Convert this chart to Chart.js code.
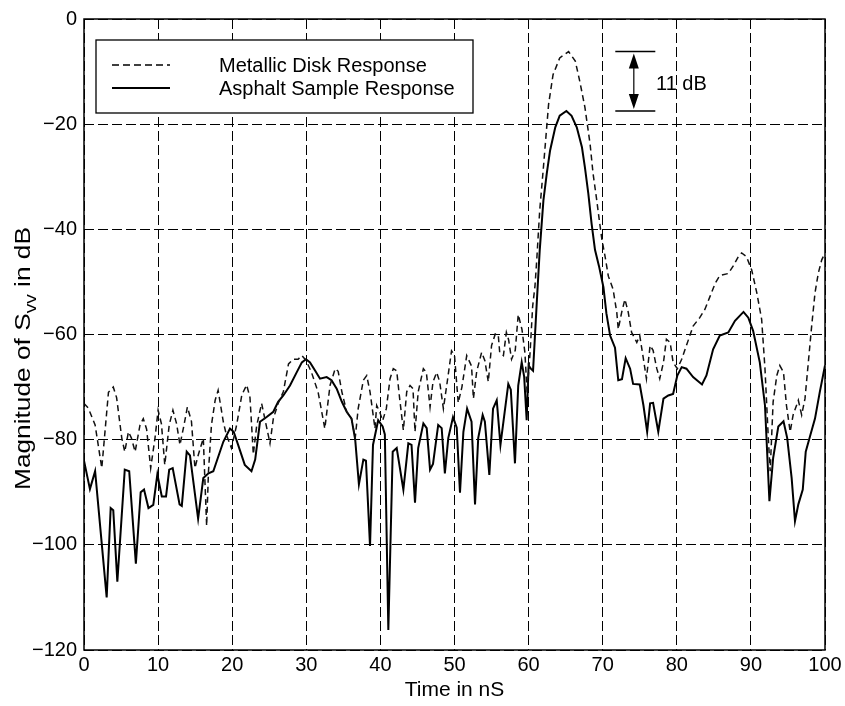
<!DOCTYPE html>
<html>
<head>
<meta charset="utf-8">
<script src="https://cdn.jsdelivr.net/npm/chart.js@4.4.0/dist/chart.umd.min.js"></script>
<style>
html,body{margin:0;padding:0;background:#fff;}
#wrap{width:845px;height:706px;}
</style>
</head>
<body>
<div id="wrap"><canvas id="c" width="845" height="706"></canvas></div>
<script>
// ---------------- data ----------------
const seriesNames = ['Metallic Disk Response', 'Asphalt Sample Response'];
const xTickValues = [0, 10, 20, 30, 40, 50, 60, 70, 80, 90, 100];
const yTickValues = [-120, -100, -80, -60, -40, -20, 0];
const xTitle = 'Time in nS';
const yTitleParts = ['Magnitude of S', 'vv', ' in dB'];
const annotationText = '11 dB';

const metallicT = [
  0, 0.58, 1.5, 2.4, 3.3, 3.95, 4.4, 5.1, 5.5, 6.0,
  6.4, 6.9, 7.56, 8.0, 8.45, 9.0, 9.58, 10.0, 10.45, 10.9,
  11.5, 12.0, 12.5, 12.95, 13.5, 13.95, 14.5, 14.97, 15.4, 16.1,
  16.55, 16.8, 17.2, 17.7, 18.1, 18.8, 19.2, 19.9, 20.6, 21.3,
  21.95, 22.4, 22.85, 23.3, 23.97, 24.4, 25.1, 25.55, 26.2, 26.9,
  27.6, 28.25, 28.9, 29.4, 30.0, 30.7, 31.6, 32.5, 33.2, 33.9,
  34.3, 34.8, 35.45, 36.1, 36.6, 37.0, 37.7, 38.15, 38.6, 39.27,
  39.5, 39.9, 40.3, 40.8, 41.3, 41.74, 42.2, 42.6, 43.1, 43.55,
  44.0, 44.4, 44.67, 45.1, 45.8, 46.2, 46.7, 47.1, 47.6, 48.0,
  48.5, 48.95, 49.6, 50.0, 50.5, 51.0, 51.65, 52.3, 52.55, 53.0,
  53.66, 54.1, 54.56, 55.0, 55.5, 55.9, 56.1, 56.6, 57.0, 57.3,
  57.7, 58.2, 58.6, 59.1, 59.5, 59.8, 60.2, 60.55, 60.86, 61.1,
  61.5, 62.0, 62.7, 63.3, 64.2, 65.4, 66.3, 66.9, 67.6, 68.3,
  68.7, 69.2, 69.6, 69.9, 70.3, 70.76, 71.4, 71.9, 72.1, 72.56,
  73.0, 73.45, 73.9, 74.6, 75.0, 75.5, 75.9, 76.4, 76.8, 77.3,
  77.7, 78.2, 78.6, 79.1, 79.5, 80.07, 80.66, 81.3, 82.2, 83.1,
  83.8, 84.5, 85.2, 85.8, 86.95, 87.6, 88.3, 88.75, 89.4, 90.1,
  90.8, 91.45, 91.9, 92.35, 92.6, 93.0, 93.5, 93.9, 94.4, 94.8,
  95.3, 95.7, 96.4, 96.85, 97.3, 97.75, 98.2, 98.65, 99.1, 99.56,
  100
];
const metallicDb = [
  -73.1, -74, -77.2, -85.4, -71, -70, -72, -79.7, -82.3, -78.5,
  -79.7, -82.3, -77.2, -76, -78, -85.4, -79.7, -74.4, -77, -84.8,
  -77.2, -74.4, -77, -81, -77.2, -73.8, -76.5, -85.4, -83, -79.7,
  -96.4, -86, -77.2, -72.5, -70.6, -76.6, -79, -81.6, -77.2, -71.5,
  -69.6, -72, -82.8, -77.4, -73.1, -76, -80.7, -76, -73.1, -70.9,
  -65.6, -64.7, -64.7, -64, -65, -67.2, -71, -77.9, -69.7, -66.5,
  -67, -70.9, -74.7, -76, -79.7, -74.1, -68.7, -67.8, -70.9, -77.9,
  -73.5, -74.7, -76.4, -74.1, -68.4, -66.5, -66.9, -72.2, -78.2, -70.9,
  -69.7, -70.3, -78.5, -70.9, -66.5, -67.2, -73.8, -69, -67.2, -69,
  -74.1, -69.7, -63.1, -64, -73, -70, -64, -66, -72.2, -67,
  -63.4, -65, -69, -62.1, -59.9, -60, -63.4, -64, -59.6, -61,
  -64.7, -63, -56.2, -59, -63.4, -71, -63.4, -54.6, -50.8, -45.8,
  -36.4, -28.2, -16.2, -10.6, -7.4, -6.2, -8, -11.8, -16.8, -23.8,
  -29.4, -34.5, -38.9, -42, -45, -48.9, -51.4, -55.8, -59, -55.8,
  -53.3, -55.8, -59.6, -61.5, -60.2, -64.7, -68.4, -62.1, -63, -66.5,
  -68.4, -65.3, -60.9, -61.5, -65.3, -66.5, -64.7, -62.1, -58.4, -56.8,
  -55.2, -52.7, -50.2, -48.8, -48.4, -47, -45.2, -44.5, -45.2, -47.7,
  -52.1, -57.1, -66.5, -79.7, -86, -72.8, -67.8, -65.9, -67.2, -73.5,
  -78.5, -75.3, -72.5, -75.3, -72.2, -65.3, -58.4, -52.1, -48.3, -45.8,
  -44.5
];

const asphaltT = [
  0, 0.8, 1.5, 3.06, 3.6, 3.95, 4.5, 5.5, 6.1, 7.0,
  7.65, 8.1, 8.7, 9.35, 9.9, 10.5, 11.07, 11.5, 11.97, 12.9,
  13.2, 13.86, 14.3, 15.4, 16.1, 16.8, 17.45, 18.8, 19.7, 20.2,
  20.8, 21.7, 22.6, 23.1, 23.75, 24.65, 25.55, 26.2, 26.9, 27.8,
  28.7, 29.4, 29.96, 30.5, 31.2, 31.85, 32.75, 33.4, 34.1, 34.8,
  35.45, 36.1, 36.6, 37.1, 37.7, 38.05, 38.6, 39.0, 39.7, 40.3,
  40.6, 41.07, 41.66, 42.2, 43.1, 43.77, 44.2, 44.67, 45.1, 45.8,
  46.25, 46.7, 47.1, 47.8, 48.27, 48.7, 49.16, 49.8, 50.3, 50.74,
  51.2, 51.7, 52.3, 52.77, 53.2, 53.8, 54.1, 54.7, 55.2, 55.7,
  56.2, 56.6, 57.26, 57.6, 58.16, 58.6, 59.07, 59.4, 59.74, 60.0,
  60.3, 60.6, 60.86, 61.1, 61.5, 62.0, 62.45, 62.9, 63.6, 64.2,
  65.1, 65.8, 66.5, 67.2, 67.6, 68.06, 68.5, 68.96, 69.5, 70.1,
  70.5, 71.0, 71.66, 72.1, 72.6, 73.1, 73.7, 74.1, 75.0, 75.5,
  76.0, 76.4, 76.8, 77.5, 78.2, 78.85, 79.5, 80.07, 80.66, 81.3,
  82.2, 83.4, 84.0, 84.9, 85.8, 86.95, 87.85, 89.0, 89.65, 90.3,
  91.2, 91.9, 92.5, 93.0, 93.7, 94.4, 94.9, 95.5, 95.95, 96.4,
  97.0, 97.4, 97.97, 98.65, 99.3, 100
];
const asphaltDb = [
  -84, -89.4, -86, -110, -93, -93.4, -107, -85.7, -86, -103.6,
  -90, -89.5, -93, -92.4, -86.6, -90.8, -90.8, -85.7, -85.4, -92.3,
  -92.6, -82.3, -83, -95, -87.3, -86.4, -86, -80.4, -77.9, -78.5,
  -81, -84.8, -86, -83.8, -76.6, -75.7, -74.7, -72.8, -71.6, -69.7,
  -67.2, -65.3, -64.7, -65.3, -66.9, -68.4, -68.1, -68.7, -70.3, -72.8,
  -74.7, -76, -80, -88.5, -83.8, -84, -100.2, -81, -76.3, -77.5,
  -79, -116.2, -82.3, -81.6, -89.5, -80.7, -81, -92, -81.6, -76.9,
  -77.8, -85.7, -84.6, -77.2, -77.8, -86.4, -79.7, -75.7, -77.7, -90.1,
  -78.5, -74.1, -76.6, -92.3, -79.7, -75.3, -76.6, -86.7, -74.1, -72.5,
  -81, -76.6, -69.4, -70.5, -84.5, -69.7, -65.3, -68, -76.3, -65.9,
  -66.5, -66.9, -60.2, -54, -44, -34.5, -29.4, -25, -20.6, -18.4,
  -17.5, -18.4, -20.6, -24.4, -28.2, -33.2, -38.9, -43.9, -47, -51,
  -56, -60.2, -62.5, -68.7, -68.5, -64.5, -66.5, -69.4, -69.5, -73.5,
  -78.5, -73.1, -73, -78.5, -72.2, -71.6, -71.3, -67.8, -66.2, -66.5,
  -68.1, -69.5, -67.8, -62.8, -60.2, -59.6, -57.4, -55.7, -56.8, -59.3,
  -65.3, -73.5, -91.7, -83.5, -77.5, -76.5, -79.7, -87.3, -95.5, -92.3,
  -89.5, -82.3, -79.4, -76, -70.9, -65.9
];

// annotation placement (time values on the x axis)
const annotLineFrom = 71.7, annotLineTo = 77.1, annotArrowAt = 74.2, annotTextAt = 77.2;

// ---------------- chart ----------------
const FONT = "'Liberation Sans', Arial, Helvetica, sans-serif";
const toPts = (ts, vs) => ts.map((t, i) => ({x: t, y: vs[i]}));
const fmt = v => (v < 0 ? '\u2212' + Math.abs(v) : String(v));

const overlay = {
  id: 'overlay',
  afterDatasetsDraw(chart) {
    const {ctx, chartArea: a, scales: {x, y}} = chart;
    ctx.save();
    // plot box
    ctx.setLineDash([]);
    ctx.strokeStyle = '#000';
    ctx.lineWidth = 1.5;
    ctx.strokeRect(a.left, a.top, a.right - a.left, a.bottom - a.top);

    // legend box
    const lx = a.left + 12, ly = a.top + 21, lw = 377, lh = 73;
    ctx.fillStyle = '#fff';
    ctx.fillRect(lx, ly, lw, lh);
    ctx.lineWidth = 1.3;
    ctx.strokeRect(lx, ly, lw, lh);
    const rows = [ly + 25, ly + 48];
    ctx.lineWidth = 1.5;
    ctx.setLineDash([7, 4]);
    ctx.beginPath(); ctx.moveTo(lx + 16, rows[0]); ctx.lineTo(lx + 74, rows[0]); ctx.stroke();
    ctx.setLineDash([]);
    ctx.lineWidth = 1.8;
    ctx.beginPath(); ctx.moveTo(lx + 16, rows[1]); ctx.lineTo(lx + 74, rows[1]); ctx.stroke();
    ctx.fillStyle = '#000';
    ctx.font = '20px ' + FONT;
    ctx.textAlign = 'left';
    ctx.textBaseline = 'alphabetic';
    ctx.fillText(seriesNames[0], lx + 123, rows[0] + 7);
    ctx.fillText(seriesNames[1], lx + 123, rows[1] + 7);

    // 11 dB annotation
    const topV = Math.max(...metallicDb), botV = Math.max(...asphaltDb);
    const yT = y.getPixelForValue(topV), yB = y.getPixelForValue(botV);
    const x1 = x.getPixelForValue(annotLineFrom), x2 = x.getPixelForValue(annotLineTo);
    const xa = x.getPixelForValue(annotArrowAt);
    ctx.strokeStyle = '#000';
    ctx.lineWidth = 1.5;
    ctx.beginPath();
    ctx.moveTo(x1, yT); ctx.lineTo(x2, yT);
    ctx.moveTo(x1, yB); ctx.lineTo(x2, yB);
    ctx.stroke();
    ctx.lineWidth = 1.2;
    ctx.beginPath(); ctx.moveTo(xa, yT + 10); ctx.lineTo(xa, yB - 10); ctx.stroke();
    ctx.beginPath();
    ctx.moveTo(xa, yT + 2); ctx.lineTo(xa - 5, yT + 17); ctx.lineTo(xa + 5, yT + 17); ctx.closePath();
    ctx.moveTo(xa, yB - 2); ctx.lineTo(xa - 5, yB - 17); ctx.lineTo(xa + 5, yB - 17); ctx.closePath();
    ctx.fill();
    ctx.font = '20px ' + FONT;
    ctx.textBaseline = 'alphabetic';
    ctx.fillText(annotationText, x.getPixelForValue(annotTextAt), (yT + yB) / 2 + 9);

    // y axis title with subscript
    ctx.save();
    ctx.translate(30, (a.top + a.bottom) / 2 + 24);
    ctx.rotate(-Math.PI / 2);
    const mainF = '22px ' + FONT, subF = '16px ' + FONT;
    ctx.font = mainF; const w0 = ctx.measureText(yTitleParts[0]).width;
    const w2 = ctx.measureText(yTitleParts[2]).width;
    ctx.font = subF; const w1 = ctx.measureText(yTitleParts[1]).width;
    const total = w0 + w1 + w2;
    ctx.scale(263 / total, 1);
    let sx = -total / 2;
    ctx.textAlign = 'left';
    ctx.font = mainF; ctx.fillText(yTitleParts[0], sx, 0); sx += w0;
    ctx.font = subF; ctx.fillText(yTitleParts[1], sx, 6); sx += w1;
    ctx.font = mainF; ctx.fillText(yTitleParts[2], sx, 0);
    ctx.restore();

    ctx.restore();
  }
};

new Chart(document.getElementById('c'), {
  type: 'line',
  data: {
    datasets: [
      {
        label: seriesNames[0],
        data: toPts(metallicT, metallicDb),
        borderColor: '#111',
        borderWidth: 1.5,
        borderDash: [6, 4],
        pointRadius: 0,
        tension: 0,
        fill: false
      },
      {
        label: seriesNames[1],
        data: toPts(asphaltT, asphaltDb),
        borderColor: '#000',
        borderWidth: 2,
        pointRadius: 0,
        tension: 0,
        fill: false
      }
    ]
  },
  options: {
    responsive: false,
    animation: false,
    devicePixelRatio: 1,
    layout: {padding: {top: 14, right: 20, left: 0, bottom: 0}},
    plugins: {legend: {display: false}, tooltip: {enabled: false}},
    scales: {
      x: {
        type: 'linear',
        min: 0, max: 100,
        afterBuildTicks: s => { s.ticks = xTickValues.map(v => ({value: v})); },
        afterFit: s => { s.height = 56; },
        grid: {color: '#000', lineWidth: 1, drawTicks: false},
        border: {display: false, dash: [10, 4]},
        ticks: {color: '#000', font: {family: FONT, size: 20}, padding: 3, maxRotation: 0, autoSkip: false, callback: v => fmt(v)},
        title: {display: true, text: xTitle, color: '#000', font: {family: FONT, size: 21}, padding: {top: 0, bottom: 3}}
      },
      y: {
        type: 'linear',
        min: -120, max: 0,
        afterBuildTicks: s => { s.ticks = yTickValues.map(v => ({value: v})); },
        afterFit: s => { s.width = 84; },
        grid: {color: '#000', lineWidth: 1, drawTicks: false},
        border: {display: false, dash: [10, 4]},
        ticks: {color: '#000', font: {family: FONT, size: 20}, padding: 7, autoSkip: false, callback: v => fmt(v)},
        title: {display: false}
      }
    }
  },
  plugins: [overlay]
});
</script>
</body>
</html>
